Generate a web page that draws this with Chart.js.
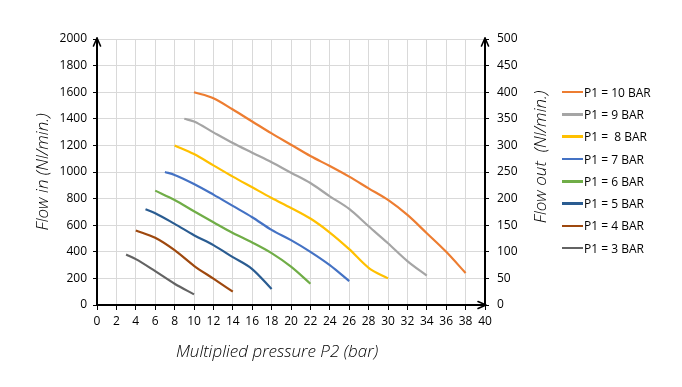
<!DOCTYPE html>
<html><head><meta charset="utf-8">
<script src="https://cdn.jsdelivr.net/npm/chart.js@4.4.0/dist/chart.umd.min.js"></script>
<style>
html,body{margin:0;padding:0;background:#fff;}
#wrap{position:relative;width:682px;height:387px;overflow:hidden;}
#legend{position:absolute;left:562px;top:81px;font:12px "Open Sans",sans-serif;color:#000;}
.item{display:flex;align-items:center;height:22.3px;white-space:pre;}
.swatch{width:21px;height:2.5px;margin-right:1px;}
</style></head><body>
<div id="wrap"><canvas id="c" style="width:682px;height:387px"></canvas><div id="legend"></div></div>
<script>
// ---- data ----
const seriesLabels = ['P1 = 10 BAR','P1 = 9 BAR','P1 =  8 BAR','P1 = 7 BAR','P1 = 6 BAR','P1 = 5 BAR','P1 = 4 BAR','P1 = 3 BAR'];
const seriesColors = ['#ED7D31','#A5A5A5','#FFC000','#4472C4','#70AD47','#2A5C91','#9E480E','#636363'];

const p10x = [10,12,14,16,18,20,22,24,26,28,30,32,34,36,38];
const p10y = [1600,1555,1470,1380,1290,1205,1120,1045,965,877,790,677,540,400,240];
const p9x = [9,10,12,14,16,18,20,22,24,26,28,30,32,34];
const p9y = [1400,1380,1298,1218,1145,1073,995,917,817,722,592,464,330,220];
const p8x = [8,10,12,14,16,18,20,22,24,26,28,30];
const p8y = [1200,1135,1050,965,885,805,730,650,545,420,280,200];
const p7x = [7,8,10,12,14,16,18,20,22,24,26];
const p7y = [1000,978,910,830,745,660,565,488,400,300,180];
const p6x = [6,8,10,12,14,16,18,20,22];
const p6y = [860,790,705,622,541,470,390,288,160];
const p5x = [5,6,8,10,12,14,16,18];
const p5y = [720,690,610,525,450,360,270,120];
const p4x = [4,6,8,10,12,14];
const p4y = [560,505,412,295,198,100];
const p3x = [3,4,6,8,10];
const p3y = [380,345,255,160,80];

const xTicks = {min:0, max:40, step:2};
const yLeftTicks = {min:0, max:2000, step:200};
const yRightTicks = {min:0, max:500, step:50};

const seriesX = [p10x,p9x,p8x,p7x,p6x,p5x,p4x,p3x];
const seriesY = [p10y,p9y,p8y,p7y,p6y,p5y,p4y,p3y];

const datasets = seriesLabels.map((lab,i)=>({
  label: lab,
  data: seriesX[i].map((x,j)=>({x:x, y:seriesY[i][j]})),
  borderColor: seriesColors[i],
  backgroundColor: seriesColors[i],
  borderWidth: 2.2,
  pointRadius: 0,
  fill: false,
  cubicInterpolationMode: 'monotone',
  yAxisID: 'y'
}));

const tickFont = {family:'"Open Sans"', size:12};
const titleFontCss = 'italic 300 17px "Open Sans"';
const plain = v => String(v);

const extras = {
  id:'extras',
  afterDraw(chart){
    const ctx = chart.ctx;
    const xs = chart.scales.x, ys = chart.scales.y;
    const L = xs.getPixelForValue(xTicks.min), R = xs.getPixelForValue(xTicks.max);
    const T = ys.getPixelForValue(yLeftTicks.max), B = ys.getPixelForValue(yLeftTicks.min);
    ctx.save();
    ctx.strokeStyle = '#000'; ctx.lineWidth = 1.6; ctx.lineCap='round'; ctx.lineJoin='round';
    const up = (x)=>{ctx.beginPath();ctx.moveTo(x-3.5,T+7);ctx.lineTo(x,T-1);ctx.lineTo(x+3.5,T+7);ctx.stroke();
      ctx.beginPath();ctx.moveTo(x,T);ctx.lineTo(x,T-1);ctx.stroke();};
    up(L); up(R);
    ctx.beginPath();ctx.moveTo(R-7,B-3.5);ctx.lineTo(R+1,B);ctx.lineTo(R-7,B+3.5);ctx.stroke();
    // titles
    ctx.fillStyle = '#000';
    ctx.font = titleFontCss;
    ctx.textAlign='center'; ctx.textBaseline='middle';
    ctx.fillText('Multiplied pressure P2 (bar)', 277, 352);
    ctx.translate(541, 157); ctx.rotate(-Math.PI/2);
    ctx.fillText('Flow out  (Nl/min.)', 0, 0);
    ctx.restore();
  }
};

new Chart(document.getElementById('c'), {
  type:'line',
  data:{datasets},
  options:{
    responsive:false, animation:false, devicePixelRatio:1,
    layout:{padding:{top:39,right:122,bottom:0,left:0}},
    plugins:{legend:{display:false}, tooltip:{enabled:false}},
    scales:{
      x:{type:'linear', min:xTicks.min, max:xTicks.max,
         ticks:{stepSize:xTicks.step, font:tickFont, color:'#000', padding:4, maxRotation:0, autoSkip:false, callback:plain},
         grid:{color:'#D9D9D9', tickColor:'#000', tickLength:5, lineWidth:1},
         border:{color:'#000', width:2},
         afterFit(s){s.height=82;}},
      y:{type:'linear', position:'left', min:yLeftTicks.min, max:yLeftTicks.max,
         ticks:{stepSize:yLeftTicks.step, font:tickFont, color:'#000', padding:6, callback:plain},
         grid:{color:'#D9D9D9', tickColor:'#000', tickLength:4, lineWidth:1},
         border:{color:'#000', width:2},
         title:{display:true, text:'Flow in (Nl/min.)', font:{family:'"Open Sans"', size:17, style:'italic', weight:300}, color:'#000', padding:{top:33,bottom:0}},
         afterFit(s){s.width=97;}},
      y2:{type:'linear', position:'right', min:yRightTicks.min, max:yRightTicks.max,
         ticks:{stepSize:yRightTicks.step, font:tickFont, color:'#000', padding:8, callback:plain},
         grid:{drawOnChartArea:false, color:'#D9D9D9', tickColor:'#000', tickLength:4},
         border:{color:'#000', width:2},
         afterFit(s){s.width=75;}}
    }
  },
  plugins:[extras]
});

// HTML legend built from the same arrays
const lg = document.getElementById('legend');
seriesLabels.forEach((lab,i)=>{
  const d = document.createElement('div'); d.className='item';
  const s = document.createElement('span'); s.className='swatch'; s.style.background=seriesColors[i];
  const t = document.createElement('span'); t.textContent = lab;
  d.appendChild(s); d.appendChild(t); lg.appendChild(d);
});
</script>
</body></html>
